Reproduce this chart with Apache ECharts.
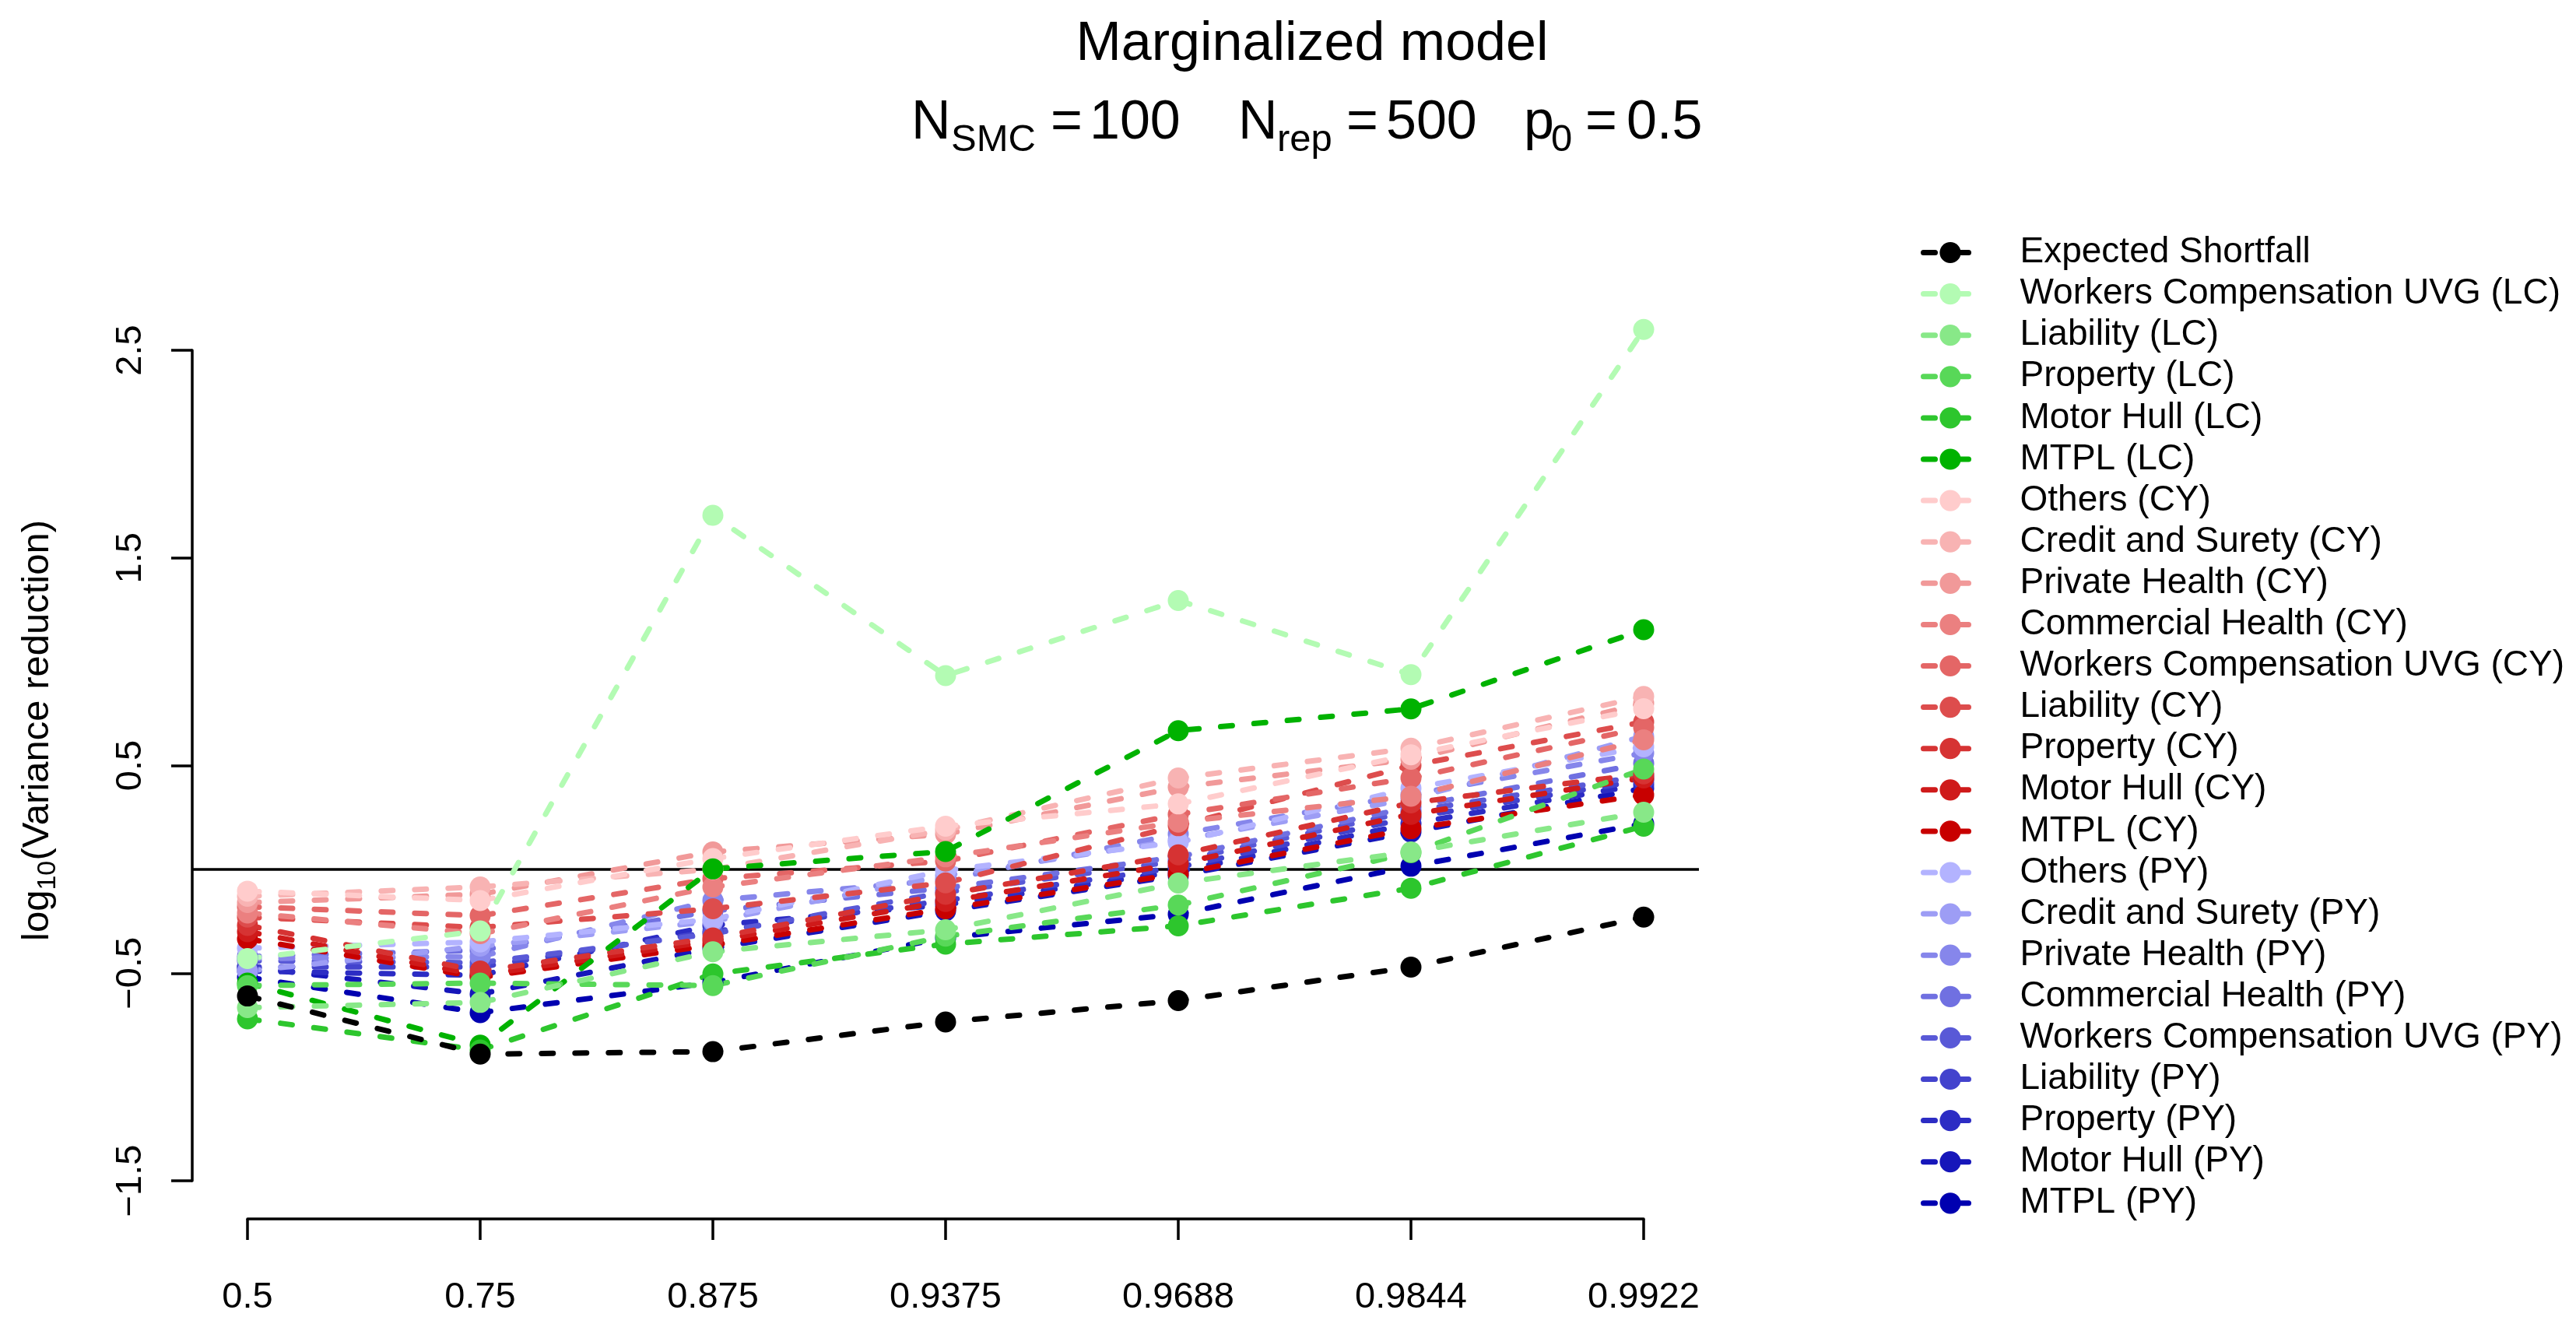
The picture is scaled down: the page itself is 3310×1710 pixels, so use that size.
<!DOCTYPE html>
<html><head><meta charset="utf-8">
<script src="https://cdn.jsdelivr.net/npm/echarts@6/dist/echarts.min.js"></script>
<style>html,body{margin:0;padding:0;background:#fff}#c{width:3310px;height:1710px}</style>
</head><body><div id="c"></div>
<script>
// ---- data ----
const xLabels = ['0.5','0.75','0.875','0.9375','0.9688','0.9844','0.9922'];

const expectedShortfall = [-0.61, -0.89, -0.878, -0.735, -0.632, -0.471, -0.23];

const wcLC        = [-0.43, -0.297, 1.705, 0.933, 1.295, 0.938, 2.6];
const liabilityLC = [-0.666, -0.641, -0.397, -0.291, -0.066, 0.084, 0.275];
const propertyLC  = [-0.56, -0.548, -0.56, -0.322, -0.172, 0.08, 0.483];
const motorHullLC = [-0.72, -0.87, -0.504, -0.36, -0.272, -0.091, 0.208];
const mtplLC      = [-0.548, -0.847, 0.002, 0.086, 0.668, 0.773, 1.154];

const othersCY     = [-0.105, -0.15, 0.052, 0.208, 0.315, 0.552, 0.774];
const creditCY     = [-0.13, -0.085, 0.0, 0.19, 0.44, 0.583, 0.833];
const privateCY    = [-0.16, -0.12, 0.084, 0.17, 0.396, 0.53, 0.80];
const commercialCY = [-0.21, -0.31, -0.085, 0.06, 0.227, 0.352, 0.624];
const wcCY         = [-0.18, -0.223, -0.045, 0.04, 0.265, 0.44, 0.683];
const liabilityCY  = [-0.23, -0.28, -0.19, -0.065, 0.21, 0.50, 0.71];
const propertyCY   = [-0.27, -0.49, -0.33, -0.12, 0.07, 0.32, 0.46];
const motorHullCY  = [-0.30, -0.51, -0.345, -0.155, 0.027, 0.265, 0.44];
const mtplCY       = [-0.335, -0.52, -0.365, -0.19, -0.022, 0.196, 0.358];

const othersPY     = [-0.38, -0.35, -0.24, -0.005, 0.13, 0.39, 0.59];
const creditPY     = [-0.49, -0.37, -0.25, -0.03, 0.14, 0.34, 0.64];
const privatePY    = [-0.43, -0.42, -0.15, -0.05, 0.17, 0.36, 0.56];
const commercialPY = [-0.42, -0.39, -0.20, -0.09, 0.06, 0.30, 0.51];
const wcPY         = [-0.44, -0.45, -0.31, -0.11, 0.04, 0.28, 0.45];
const liabilityPY  = [-0.47, -0.47, -0.30, -0.15, 0.01, 0.25, 0.43];
const propertyPY   = [-0.49, -0.51, -0.27, -0.17, -0.01, 0.22, 0.41];
const motorHullPY  = [-0.47, -0.60, -0.38, -0.20, -0.03, 0.18, 0.39];
const mtplPY       = [-0.52, -0.69, -0.545, -0.33, -0.216, 0.015, 0.22];

// ---- series definitions (legend order) ----
const seriesDefs = [
  ['Expected Shortfall', expectedShortfall, '#000000'],
  ['Workers Compensation UVG (LC)', wcLC, '#b3fbb3'],
  ['Liability (LC)', liabilityLC, '#88e888'],
  ['Property (LC)', propertyLC, '#58d858'],
  ['Motor Hull (LC)', motorHullLC, '#2dc62d'],
  ['MTPL (LC)', mtplLC, '#00b200'],
  ['Others (CY)', othersCY, '#ffcccc'],
  ['Credit and Surety (CY)', creditCY, '#f8b3b3'],
  ['Private Health (CY)', privateCY, '#f19999'],
  ['Commercial Health (CY)', commercialCY, '#eb8080'],
  ['Workers Compensation UVG (CY)', wcCY, '#e46666'],
  ['Liability (CY)', liabilityCY, '#dd4d4d'],
  ['Property (CY)', propertyCY, '#d63333'],
  ['Motor Hull (CY)', motorHullCY, '#cf1a1a'],
  ['MTPL (CY)', mtplCY, '#c80000'],
  ['Others (PY)', othersPY, '#b3b3ff'],
  ['Credit and Surety (PY)', creditPY, '#9d9df5'],
  ['Private Health (PY)', privatePY, '#8686eb'],
  ['Commercial Health (PY)', commercialPY, '#7070e1'],
  ['Workers Compensation UVG (PY)', wcPY, '#5959d7'],
  ['Liability (PY)', liabilityPY, '#4343cd'],
  ['Property (PY)', propertyPY, '#2c2cc4'],
  ['Motor Hull (PY)', motorHullPY, '#1616ba'],
  ['MTPL (PY)', mtplPY, '#0000b0']
];

const FONT = 'Liberation Sans';
const chart = echarts.init(document.getElementById('c'), null, {renderer: 'canvas'});

const series = seriesDefs.slice().reverse().map(([name, data, color]) => ({
  name, type: 'line', data,
  symbol: 'circle', symbolSize: 27,
  clip: false,
  lineStyle: {color, width: 7, type: [15, 28], cap: 'round'},
  itemStyle: {color},
  emphasis: {disabled: true},
  animation: false
}));

const option = {
  backgroundColor: '#ffffff',
  animation: false,
  grid: {left: 318, right: 1198, top: 450, bottom: 193, containLabel: false, outerBoundsMode: 'none'},
  xAxis: {
    type: 'category', data: xLabels, boundaryGap: false, offset: 49,
    axisLine: {show: true, onZero: false, lineStyle: {color: '#000', width: 3.5}},
    axisTick: {show: true, length: 27, lineStyle: {color: '#000', width: 3.5}},
    axisLabel: {color: '#000', fontSize: 47, fontFamily: FONT, margin: 78, interval: 0},
    splitLine: {show: false}
  },
  yAxis: {
    type: 'value', min: -1.5, max: 2.5, interval: 1, offset: 71,
    axisLine: {show: true, onZero: false, lineStyle: {color: '#000', width: 3.5}},
    axisTick: {show: true, length: 27, lineStyle: {color: '#000', width: 3.5}},
    axisLabel: {color: '#000', fontSize: 47, fontFamily: FONT, margin: 55, rotate: 90,
      formatter: v => String(v).replace('-', '\u2212')},
    splitLine: {show: false}
  },
  legend: {
    data: seriesDefs.map(d => d[0]),
    orient: 'vertical', left: 2468, top: 301, padding: 0,
    itemWidth: 69, itemHeight: 34, itemGap: 6.1,
    lineStyle: {width: 7},
    textStyle: {color: '#000', fontSize: 46, fontFamily: FONT, lineHeight: 47, padding: [0, 0, 0, 50]},
    selectedMode: false
  },
  series
};
chart.setOption(option);

// zero reference line across the full plot region
const y0 = chart.convertToPixel({yAxisIndex: 0}, 0);
const mainFont = {fontFamily: FONT, fill: '#000'};
function txt(t, x, y, size, align) {
  return {type: 'text', x, y, silent: true,
    style: Object.assign({text: t, fontSize: size, align: align || 'left', verticalAlign: 'middle'}, mainFont)};
}
const ST = 159, SB = 180;
chart.setOption({
  graphic: [
    {type: 'line', silent: true, z: 1, shape: {x1: 246, y1: y0, x2: 2183, y2: y0},
      style: {stroke: '#000', lineWidth: 3.5}},
    txt('Marginalized model', 1686, 58, 70, 'center'),
    txt('N', 1171, ST, 70), txt('SMC', 1222, SB, 49), txt('=', 1350, ST, 70), txt('100', 1400, ST, 70),
    txt('N', 1591, ST, 70), txt('rep', 1641, SB, 49), txt('=', 1730, ST, 70), txt('500', 1781, ST, 70),
    txt('p', 1958, ST, 70), txt('0', 1993, SB, 49), txt('=', 2037, ST, 70), txt('0.5', 2090, ST, 70),
    {type: 'group', x: 48, y: 937, rotation: Math.PI / 2, silent: true, children: [
      txt('log', -272, 0, 49), txt('10', -206.6, 14, 34), txt('(Variance reduction)', -168.5, 0, 49)
    ]}
  ]
});
</script></body></html>
